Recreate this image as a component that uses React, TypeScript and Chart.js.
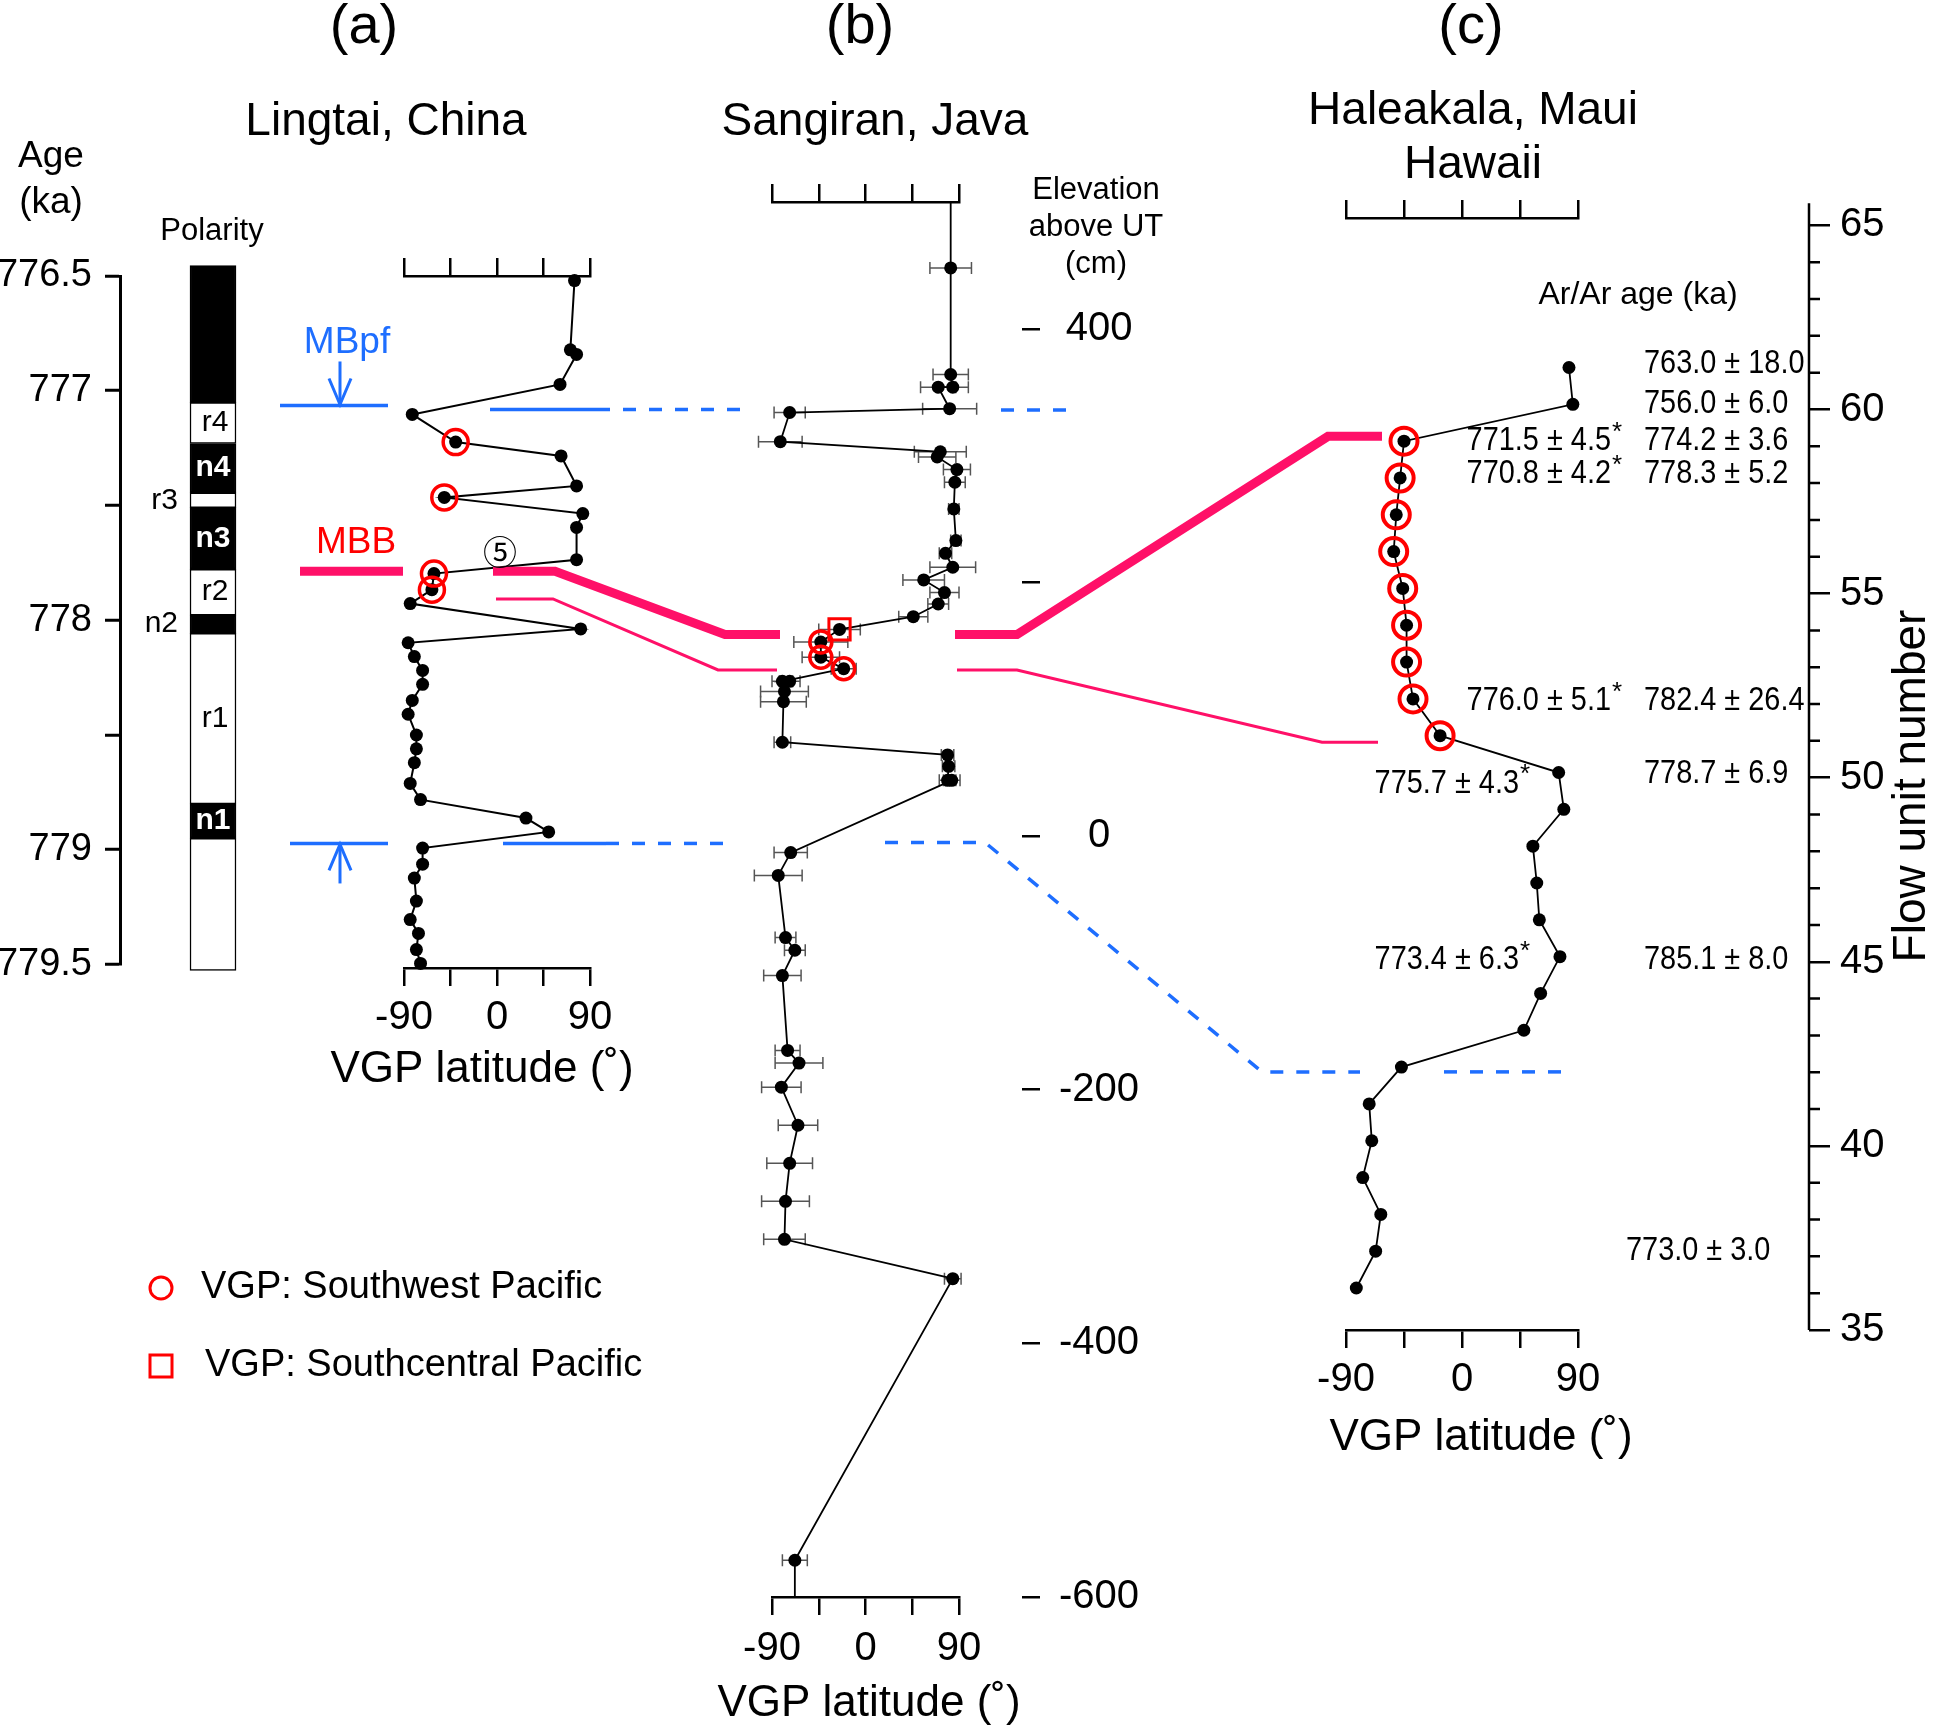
import React, { useEffect, useRef } from 'react';
import { Chart, registerables } from 'chart.js';

Chart.register(...registerables);

const FONT = '"Liberation Sans", Arial, Helvetica, sans-serif';
const CJK = '"Noto Sans CJK JP", "DejaVu Sans", sans-serif';
const PINK = '#ff1068';
const BLUE = '#1e6eff';
const RED = '#ff0000';

// ---------------- axis ticks ----------------
const VGP_TICKS = [-90, -45, 0, 45, 90];
const AGE_TICKS = [776.5, 777, 777.5, 778, 778.5, 779, 779.5];
const AGE_TICK_LABELS = ['776.5', '777', '', '778', '', '779', '779.5'];
const ELEV_TICKS = [400, 200, 0, -200, -400, -600];
const ELEV_TICK_LABELS = ['400', '', '0', '-200', '-400', '-600'];
const FLOW_TICKS = [35, 40, 45, 50, 55, 60, 65];

// ---------------- (a) Lingtai polarity column ----------------
const polarityBounds = [776.455, 777.052, 777.23, 777.445, 777.51, 777.779, 777.978, 778.058, 778.801, 778.951, 779.527];
const polarityNormal = [true, false, true, false, true, false, true, false, true, false];
const polarityLabels = ['', 'r4', 'n4', 'r3', 'n3', 'r2', 'n2', 'r1', 'n1', ''];
const polarityLabelOutside = [false, false, false, true, false, false, true, false, false, false];

// ---------------- (a) Lingtai VGP ----------------
const lingtaiAge = [776.52, 776.82, 776.84, 776.97, 777.1, 777.22, 777.28, 777.41, 777.46, 777.53, 777.59, 777.73, 777.79, 777.86, 777.92, 778.03, 778.09, 778.15, 778.21, 778.27, 778.34, 778.4, 778.49, 778.55, 778.61, 778.7, 778.77, 778.85, 778.91, 778.98, 779.05, 779.11, 779.21, 779.29, 779.35, 779.42, 779.48];
const lingtaiVgp = [75, 71, 77, 61, -82, -40, 62, 77, -51, 83, 77, 77, -61, -63, -84, 81, -86, -80, -72, -72, -82, -86, -78, -78, -80, -84, -74, 28, 50, -72, -72, -80, -78, -84, -76, -78, -74];
const lingtaiSouthwest = [5, 8, 12, 13];

// ---------------- (b) Sangiran VGP ----------------
const sangiranElev = [500, 448, 364, 354, 354, 337, 334, 311, 303, 299, 289, 279, 258, 233, 223, 212, 202, 192, 183, 173, 163, 153, 141, 132, 122, 122, 114, 106, 74, 64, 55, 44, 44, -13, -31, -80, -90, -110, -169, -179, -198, -228, -258, -288, -318, -349, -571, -600];
const sangiranVgp = [82, 82, 82, 84, 70, 81, -73, -82, 72, 69, 88, 86, 85, 87, 77, 84, 56, 76, 70, 46, -25, -43, -43, -21, -80, -73, -78, -79, -80, 79, 80, 79, 83, -72, -84, -77, -68, -80, -75, -64, -81, -65, -73, -77, -78, 84, -68, -68];
const sangiranErr = [0, 20, 17, 15, 17, 26, 15, 21, 25, 18, 13, 10, 5, 5, 6, 22, 20, 14, 10, 14, 20, 26, 18, 12, 10, 10, 23, 22, 8, 6, 6, 8, 8, 16, 23, 10, 10, 18, 12, 23, 19, 19, 22, 23, 20, 8, 12, 0];
const sangiranLineEnds = [0, 47];
const sangiranSouthwest = [21, 22, 23];
const sangiranSouthcentral = [20];

// ---------------- (c) Haleakala VGP ----------------
const haleakalaFlow = [36, 37, 38, 39, 40, 41, 42, 43, 44, 45, 46, 47, 48, 49, 50, 51, 52, 53, 54, 55, 56, 57, 58, 59, 60, 61];
const haleakalaVgp = [-82, -67, -63, -77, -70, -72, -47, 48, 61, 76, 60, 58, 55, 79, 75, -17, -38, -43, -43, -46, -53, -51, -48, -45, 86, 83];
const haleakalaSouthwest = [15, 16, 17, 18, 19, 20, 21, 22, 23];

const arRightText = ['763.0±18.0', '756.0±6.0', '774.2±3.6', '778.3±5.2', '782.4±26.4', '778.7±6.9', '785.1±8.0', '773.0±3.0'];
const arRightFlow = [61.25, 60.15, 59.15, 58.25, 52.1, 50.1, 45.05, 37.15];
const arLeftText = ['771.5±4.5', '770.8±4.2', '776.0±5.1', '775.7±4.3', '773.4±6.3'];
const arLeftFlow = [59.15, 58.25, 52.1, 49.85, 45.05];

// ---------------- correlation levels (in data units) ----------------
const MBB_AGE = 777.78, MBB_ELEV = 159, MBB_FLOW = 59.13;
const MBB2_AGE = 777.9, MBB2_ELEV = 131, MBB2_FLOW = 50.82;
const MBPF_AGE = 777.07, MBPF_ELEV = 336;
const ONSET_AGE = 778.96, ONSET_ELEV = -5, ONSET_FLOW = 41.87;

// ---------------- layout ----------------
const POS_A1 = { x: 0, y: 0, w: 320, h: 1000 };
const POS_A2 = { x: 300, y: 150, w: 390, h: 960 };
const POS_B = { x: 700, y: 120, w: 470, h: 1613 };
const POS_C = { x: 1280, y: 150, w: 666, h: 1330 };
const arRightX = [1644, 1644, 1644, 1644, 1644, 1644, 1644, 1626];
const arLeftRight = [1611, 1611, 1611, 1519, 1519];

const baseOpts: any = {
  responsive: false,
  maintainAspectRatio: false,
  animation: false,
  events: [],
  plugins: { legend: { display: false }, tooltip: { enabled: false } },
};

function setTicks(vals: number[]) {
  return (s: any) => {
    s.ticks = vals.map((v) => ({ value: v }));
  };
}

const axisGrid = (len: number) => ({
  display: true,
  drawOnChartArea: false,
  drawTicks: true,
  tickLength: len,
  tickWidth: 2.5,
  tickColor: '#000',
  color: '#000',
  lineWidth: 2.5,
});

function vgpBottom(height: number, pad: number) {
  return {
    type: 'linear',
    position: 'bottom',
    min: -90,
    max: 90,
    afterBuildTicks: setTicks(VGP_TICKS),
    afterFit: (s: any) => {
      s.height = height;
    },
    grid: axisGrid(18),
    border: { display: true, color: '#000', width: 2.5 },
    ticks: {
      autoSkip: false,
      maxRotation: 0,
      minRotation: 0,
      padding: pad,
      color: '#000',
      font: { family: FONT, size: 40 },
      callback: (v: any) => (v % 90 === 0 ? String(v) : ''),
    },
  };
}

function vgpTop() {
  return {
    type: 'linear',
    position: 'top',
    min: -90,
    max: 90,
    afterBuildTicks: setTicks(VGP_TICKS),
    afterFit: (s: any) => {
      s.height = 20;
    },
    grid: axisGrid(18),
    border: { display: true, color: '#000', width: 2.5 },
    ticks: { display: false },
  };
}

function spacer(width: number) {
  return {
    type: 'linear',
    position: 'right',
    weight: 0,
    min: 0,
    max: 1,
    afterFit: (s: any) => {
      s.width = width;
    },
    grid: { display: false },
    border: { display: false },
    ticks: { display: false },
  };
}

const AX = { xAxisID: 'x', yAxisID: 'y' };
const AXD = { xAxisID: 'x', yAxisID: 'yd' };

function makeA1(): any {
  const datasets = polarityNormal.map((n, i) => ({
    data: [[polarityBounds[i], polarityBounds[i + 1]]],
    backgroundColor: n ? '#000' : '#fff',
    borderColor: '#000',
    borderWidth: 1.5,
    borderSkipped: false,
    barThickness: 46,
    grouped: false,
    clip: false,
    ...AX,
  }));
  return {
    type: 'bar',
    data: { labels: ['Polarity'], datasets },
    options: {
      ...baseOpts,
      layout: { padding: { left: 0, right: 14, top: 276, bottom: 32 } },
      scales: {
        x: { type: 'category', display: false },
        y: {
          type: 'linear',
          position: 'left',
          min: 776.5,
          max: 779.5,
          reverse: true,
          afterBuildTicks: setTicks(AGE_TICKS),
          afterFit: (s: any) => {
            s.width = 120;
          },
          grid: { ...axisGrid(15), tickWidth: 3 },
          border: { display: true, color: '#000', width: 3 },
          ticks: {
            padding: 13,
            color: '#000',
            font: { family: FONT, size: 38 },
            callback: (_v: any, i: number) => AGE_TICK_LABELS[i],
          },
        },
      },
    },
    plugins: [
      {
        id: 'polLabels',
        afterDatasetsDraw(chart: any) {
          const { ctx, scales } = chart;
          const cx = scales.x.getPixelForValue(0);
          ctx.save();
          ctx.textBaseline = 'middle';
          polarityLabels.forEach((lab, i) => {
            if (!lab) return;
            const py = scales.y.getPixelForValue((polarityBounds[i] + polarityBounds[i + 1]) / 2);
            if (polarityLabelOutside[i]) {
              ctx.font = `30px ${FONT}`;
              ctx.fillStyle = '#000';
              ctx.textAlign = 'right';
              ctx.fillText(lab, cx - 35, py);
            } else if (polarityNormal[i]) {
              ctx.font = `bold 30px ${FONT}`;
              ctx.fillStyle = '#fff';
              ctx.textAlign = 'center';
              ctx.fillText(lab, cx, py);
            } else {
              ctx.font = `30px ${FONT}`;
              ctx.fillStyle = '#000';
              ctx.textAlign = 'center';
              ctx.fillText(lab, cx + 2, py);
            }
          });
          ctx.restore();
        },
      },
    ],
  };
}

function makeA2(): any {
  const pts = lingtaiAge.map((a, i) => ({ x: lingtaiVgp[i], y: a }));
  return {
    type: 'scatter',
    data: {
      datasets: [
        {
          data: lingtaiSouthwest.map((i) => pts[i]),
          showLine: false,
          pointRadius: 12.5,
          pointBorderWidth: 3.5,
          pointBorderColor: RED,
          pointBackgroundColor: 'rgba(0,0,0,0)',
          order: 0,
          clip: false,
          ...AX,
        },
        {
          data: pts,
          showLine: true,
          borderColor: '#000',
          borderWidth: 2,
          pointRadius: 6.5,
          pointBorderWidth: 0,
          pointBackgroundColor: '#000',
          order: 1,
          clip: false,
          ...AX,
        },
      ],
    },
    options: {
      ...baseOpts,
      layout: { padding: { left: 104, right: 100, top: 106, bottom: 14 } },
      scales: {
        x: vgpBottom(128, 8),
        xTop: vgpTop(),
        y: { type: 'linear', display: false, min: 776.5, max: 779.5, reverse: true },
      },
    },
  };
}

function makeB(): any {
  const pts = sangiranElev.map((e, i) => ({ x: sangiranVgp[i], y: e }));
  return {
    type: 'scatter',
    data: {
      datasets: [
        {
          data: sangiranSouthcentral.map((i) => pts[i]),
          showLine: false,
          pointStyle: 'rect',
          pointRadius: 15,
          pointBorderWidth: 3,
          pointBorderColor: RED,
          pointBackgroundColor: 'rgba(0,0,0,0)',
          order: 0,
          clip: false,
          ...AX,
        },
        {
          data: sangiranSouthwest.map((i) => pts[i]),
          showLine: false,
          pointRadius: 11,
          pointBorderWidth: 3.5,
          pointBorderColor: RED,
          pointBackgroundColor: 'rgba(0,0,0,0)',
          order: 0,
          clip: false,
          ...AX,
        },
        {
          data: pts,
          showLine: true,
          borderColor: '#000',
          borderWidth: 1.8,
          pointRadius: (c: any) => (sangiranLineEnds.includes(c.dataIndex) ? 0 : 6.5),
          pointBorderWidth: 0,
          pointBackgroundColor: '#000',
          order: 2,
          clip: false,
          ...AX,
        },
      ],
    },
    options: {
      ...baseOpts,
      layout: { padding: { left: 72, right: 8, top: 62, bottom: 3 } },
      scales: {
        x: vgpBottom(133, 10),
        xTop: vgpTop(),
        y: {
          type: 'linear',
          position: 'right',
          weight: 1,
          min: -600,
          max: 500,
          afterBuildTicks: setTicks(ELEV_TICKS),
          afterFit: (s: any) => {
            s.width = 140;
          },
          grid: axisGrid(18),
          border: { display: false },
          ticks: {
            padding: 19,
            crossAlign: 'center',
            color: '#000',
            font: { family: FONT, size: 40 },
            callback: (_v: any, i: number) => ELEV_TICK_LABELS[i],
          },
        },
        ys: spacer(63),
      },
    },
    plugins: [
      {
        id: 'errbars',
        beforeDatasetsDraw(chart: any) {
          const { ctx, scales } = chart;
          ctx.save();
          ctx.strokeStyle = '#555';
          ctx.lineWidth = 1.5;
          sangiranElev.forEach((e, i) => {
            const er = sangiranErr[i];
            if (!er) return;
            const py = scales.y.getPixelForValue(e);
            const x0 = scales.x.getPixelForValue(sangiranVgp[i] - er);
            const x1 = scales.x.getPixelForValue(sangiranVgp[i] + er);
            ctx.beginPath();
            ctx.moveTo(x0, py);
            ctx.lineTo(x1, py);
            ctx.moveTo(x0, py - 6);
            ctx.lineTo(x0, py + 6);
            ctx.moveTo(x1, py - 6);
            ctx.lineTo(x1, py + 6);
            ctx.stroke();
          });
          ctx.restore();
        },
      },
    ],
  };
}

function makeC(): any {
  const pts = haleakalaFlow.map((f, i) => ({ x: haleakalaVgp[i], y: f }));
  return {
    type: 'scatter',
    data: {
      datasets: [
        {
          data: haleakalaSouthwest.map((i) => pts[i]),
          showLine: false,
          pointRadius: 13.5,
          pointBorderWidth: 4,
          pointBorderColor: RED,
          pointBackgroundColor: 'rgba(0,0,0,0)',
          order: 0,
          clip: false,
          ...AXD,
        },
        {
          data: pts,
          showLine: true,
          borderColor: '#000',
          borderWidth: 1.8,
          pointRadius: 6.5,
          pointBorderWidth: 0,
          pointBackgroundColor: '#000',
          order: 1,
          clip: false,
          ...AXD,
        },
      ],
    },
    options: {
      ...baseOpts,
      layout: { padding: { left: 66, right: 57, top: 48, bottom: 16 } },
      scales: {
        x: vgpBottom(134, 8),
        xTop: vgpTop(),
        y: {
          type: 'linear',
          position: 'right',
          weight: 1,
          min: 35,
          max: 65.2,
          afterBuildTicks: setTicks(FLOW_TICKS),
          afterFit: (s: any) => {
            s.width = 80;
          },
          grid: axisGrid(21),
          border: { display: false },
          ticks: {
            padding: 10,
            color: '#000',
            font: { family: FONT, size: 40 },
            callback: (v: any) => String(v),
          },
        },
        ys: spacer(231),
        // data scale of the flow-unit plot (slightly offset from the printed axis in the original figure)
        yd: { type: 'linear', display: false, min: 34.86, max: 65.06 },
      },
    },
    plugins: [
      {
        id: 'flowAxis',
        afterDraw(chart: any) {
          const { ctx, scales } = chart;
          const s = scales.y;
          const x = s.left;
          ctx.save();
          ctx.strokeStyle = '#000';
          ctx.lineWidth = 2.5;
          ctx.beginPath();
          ctx.moveTo(x, s.getPixelForValue(35));
          ctx.lineTo(x, s.getPixelForValue(65.6));
          for (let v = 36; v < 65; v++) {
            if (v % 5 === 0) continue;
            const py = s.getPixelForValue(v);
            ctx.moveTo(x, py);
            ctx.lineTo(x + 11, py);
          }
          ctx.stroke();
          ctx.restore();
        },
      },
    ],
  };
}

function drawOverlay(ctx: CanvasRenderingContext2D, a2: any, b: any, c: any) {
  const yA = (v: number) => a2.scales.y.getPixelForValue(v) + POS_A2.y;
  const yB = (v: number) => b.scales.y.getPixelForValue(v) + POS_B.y;
  const yC = (v: number) => c.scales.yd.getPixelForValue(v) + POS_C.y;
  const yCa = (v: number) => c.scales.y.getPixelForValue(v) + POS_C.y;

  const line = (pts: number[][], w: number, color: string, dash: number[] = []) => {
    ctx.save();
    ctx.beginPath();
    ctx.strokeStyle = color;
    ctx.lineWidth = w;
    ctx.setLineDash(dash);
    ctx.lineJoin = 'miter';
    ctx.lineCap = 'butt';
    pts.forEach(([x, y], i) => (i ? ctx.lineTo(x, y) : ctx.moveTo(x, y)));
    ctx.stroke();
    ctx.restore();
  };
  const text = (s: string, x: number, y: number, size: number, o: any = {}) => {
    ctx.save();
    ctx.font = `${o.weight || ''} ${size}px ${o.family || FONT}`;
    ctx.fillStyle = o.color || '#000';
    ctx.textAlign = o.align || 'center';
    ctx.textBaseline = o.baseline || 'alphabetic';
    ctx.fillText(s, x, y);
    ctx.restore();
  };
  const condText = (s: string, x: number, y: number, align: CanvasTextAlign) => {
    ctx.save();
    ctx.translate(x, y);
    ctx.scale(0.85, 1);
    ctx.font = `34px ${FONT}`;
    ctx.fillStyle = '#000';
    ctx.textAlign = align;
    ctx.textBaseline = 'middle';
    ctx.fillText(s.replace('±', ' ± '), 0, 0);
    ctx.restore();
  };

  // ---- MBB (thick) and lower MBB (thin) correlation lines
  const ya = yA(MBB_AGE), yb = yB(MBB_ELEV), yc = yC(MBB_FLOW);
  line([[300, ya], [403, ya]], 9, PINK);
  line([[493, ya], [555, ya], [725, yb], [780, yb]], 9, PINK);
  line([[955, yb], [1017, yb], [1328, yc], [1382, yc]], 9, PINK);
  const ya2 = yA(MBB2_AGE), yb2 = yB(MBB2_ELEV), yc2 = yC(MBB2_FLOW);
  line([[496, ya2], [553, ya2], [718, yb2], [777, yb2]], 3, PINK);
  line([[957, yb2], [1017, yb2], [1322, yc2], [1378, yc2]], 3, PINK);

  // ---- MBpf (blue, top)
  const yp = yA(MBPF_AGE), ypb = yB(MBPF_ELEV);
  line([[280, yp - 2], [388, yp - 2]], 3.5, BLUE);
  line([[340, yp - 46], [340, yp - 2]], 3, BLUE);
  line([[329, yp - 29], [340, yp - 3], [351, yp - 29]], 3, BLUE);
  line([[490, yp + 2], [597, yp + 2]], 3.5, BLUE);
  line([[597, yp + 2], [745, yp + 2]], 3.5, BLUE, [13, 13]);
  line([[1001, ypb], [1078, ypb]], 3.5, BLUE, [13, 13]);

  // ---- lower blue (onset)
  const yo = yA(ONSET_AGE), yob = yB(ONSET_ELEV), yoc = yC(ONSET_FLOW);
  line([[290, yo], [388, yo]], 3.5, BLUE);
  line([[340, yo + 40], [340, yo]], 3, BLUE);
  line([[329, yo + 27], [340, yo + 1], [351, yo + 27]], 3, BLUE);
  line([[503, yo], [606, yo]], 3.5, BLUE);
  line([[606, yo], [729, yo]], 3.5, BLUE, [13, 13]);
  line([[885, yob], [985, yob], [1262, yoc], [1360, yoc]], 3.5, BLUE, [13, 13]);
  line([[1444, yoc], [1563, yoc]], 3.5, BLUE, [13, 13]);

  // ---- headings
  text('(a)', 364, 43, 56);
  text('(b)', 860, 43, 56);
  text('(c)', 1471, 43, 56);
  text('Lingtai, China', 386, 135, 46);
  text('Sangiran, Java', 875, 135, 46);
  text('Haleakala, Maui', 1473, 124, 46);
  text('Hawaii', 1473, 178, 46);
  text('Age', 51, 167, 37);
  text('(ka)', 51, 213, 37);
  text('Polarity', 212, 240, 31);
  text('MBpf', 347, 353, 37, { color: BLUE });
  text('MBB', 356, 553, 37, { color: RED });
  text('⑤', 500, 552, 34, { family: CJK, baseline: 'middle' });
  text('Elevation', 1096, 190, 31, { baseline: 'middle' });
  text('above UT', 1096, 227, 31, { baseline: 'middle' });
  text('(cm)', 1096, 264, 31, { baseline: 'middle' });
  text('Ar/Ar age (ka)', 1638, yCa(63.1), 32, { baseline: 'middle' });

  // ---- x-axis titles
  const xTitle = 'VGP latitude (˚)';
  text(xTitle, 482, 1070, 44, { baseline: 'middle' });
  text(xTitle, 869, 1704, 44, { baseline: 'middle' });
  text(xTitle, 1481, 1438, 44, { baseline: 'middle' });

  arRightText.forEach((t, i) => condText(t, arRightX[i], yCa(arRightFlow[i]), 'left'));
  arLeftText.forEach((t, i) => {
    const y = yCa(arLeftFlow[i]);
    condText(t, arLeftRight[i], y, 'right');
    text('*', arLeftRight[i] + 1, y - 8, 26, { align: 'left', baseline: 'middle' });
  });

  // flow unit title
  ctx.save();
  ctx.translate(1912, 786);
  ctx.rotate(-Math.PI / 2);
  ctx.font = `46px ${FONT}`;
  ctx.fillStyle = '#000';
  ctx.textAlign = 'center';
  ctx.textBaseline = 'middle';
  ctx.fillText('Flow unit number', 0, 0);
  ctx.restore();

  // ---- legend
  ctx.save();
  ctx.strokeStyle = RED;
  ctx.lineWidth = 3;
  ctx.beginPath();
  ctx.arc(161, 1288, 11, 0, Math.PI * 2);
  ctx.stroke();
  ctx.strokeRect(150, 1355, 22, 22);
  ctx.restore();
  text('VGP: Southwest Pacific', 201, 1288, 38, { align: 'left', baseline: 'middle' });
  text('VGP: Southcentral Pacific', 205, 1366, 38, { align: 'left', baseline: 'middle' });
}

export default function App() {
  const rA1 = useRef<HTMLCanvasElement>(null);
  const rA2 = useRef<HTMLCanvasElement>(null);
  const rB = useRef<HTMLCanvasElement>(null);
  const rC = useRef<HTMLCanvasElement>(null);
  const rO = useRef<HTMLCanvasElement>(null);

  useEffect(() => {
    Chart.defaults.font.family = FONT;
    Chart.defaults.color = '#000';
    const a1 = new Chart(rA1.current as any, makeA1());
    const a2 = new Chart(rA2.current as any, makeA2());
    const b = new Chart(rB.current as any, makeB());
    const c = new Chart(rC.current as any, makeC());
    const octx = (rO.current as HTMLCanvasElement).getContext('2d') as CanvasRenderingContext2D;
    octx.clearRect(0, 0, 1946, 1733);
    drawOverlay(octx, a2, b, c);
    return () => {
      a1.destroy();
      a2.destroy();
      b.destroy();
      c.destroy();
      octx.clearRect(0, 0, 1946, 1733);
    };
  }, []);

  const cv = (p: any) => ({ position: 'absolute' as const, left: p.x, top: p.y, width: p.w, height: p.h });

  return (
    <div style={{ position: 'absolute', left: 0, top: 0, width: 1946, height: 1733, background: '#fff', overflow: 'hidden' }}>
      <canvas ref={rA1} width={POS_A1.w} height={POS_A1.h} style={cv(POS_A1)} />
      <canvas ref={rA2} width={POS_A2.w} height={POS_A2.h} style={cv(POS_A2)} />
      <canvas ref={rB} width={POS_B.w} height={POS_B.h} style={cv(POS_B)} />
      <canvas ref={rC} width={POS_C.w} height={POS_C.h} style={cv(POS_C)} />
      <canvas
        ref={rO}
        width={1946}
        height={1733}
        style={{ position: 'absolute', left: 0, top: 0, width: 1946, height: 1733, pointerEvents: 'none' }}
      />
    </div>
  );
}
